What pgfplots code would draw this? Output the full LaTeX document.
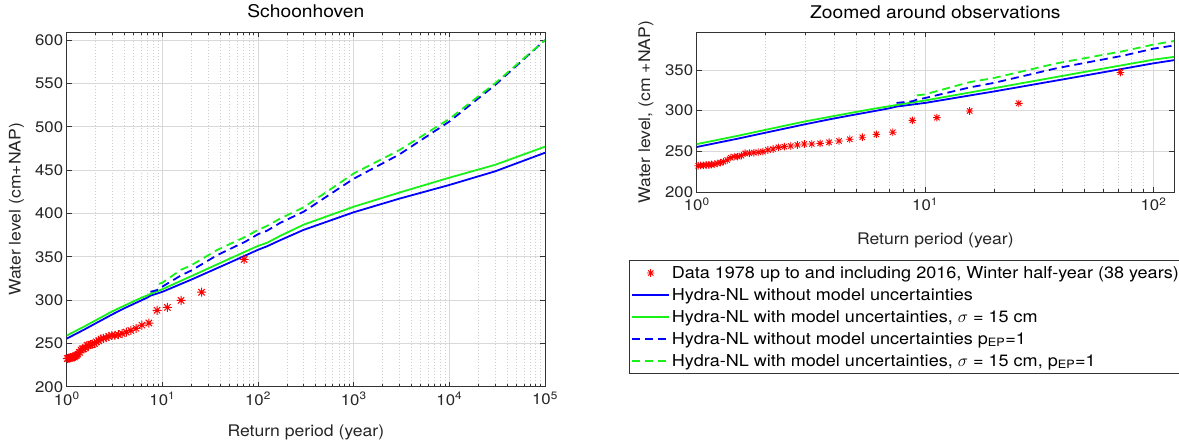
\documentclass[border=0pt]{standalone}
\usepackage{pgfplots}
\pgfplotsset{compat=1.18}
\usepackage{pgfplotstable}
\usepackage{fontspec}
\setmainfont{TeX Gyre Heros}[FakeStretch=1.1]
\definecolor{mblue}{rgb}{0,0,1}
\definecolor{mgreen}{rgb}{0.1,0.95,0.1}
\definecolor{mred}{rgb}{1,0,0}
\pgfdeclareplotmark{mstar}{%
  \pgfpathmoveto{\pgfqpoint{0pt}{\pgfplotmarksize}}\pgfpathlineto{\pgfqpoint{0pt}{-\pgfplotmarksize}}%
  \pgfpathmoveto{\pgfqpoint{\pgfplotmarksize}{0pt}}\pgfpathlineto{\pgfqpoint{-\pgfplotmarksize}{0pt}}%
  \pgfpathmoveto{\pgfqpoint{0.707\pgfplotmarksize}{0.707\pgfplotmarksize}}\pgfpathlineto{\pgfqpoint{-0.707\pgfplotmarksize}{-0.707\pgfplotmarksize}}%
  \pgfpathmoveto{\pgfqpoint{0.707\pgfplotmarksize}{-0.707\pgfplotmarksize}}\pgfpathlineto{\pgfqpoint{-0.707\pgfplotmarksize}{0.707\pgfplotmarksize}}%
  \pgfusepathqstroke}

\pgfplotstableread{
T v
71.6 346.8
25.7 309
15.67 299.6
11.27 291.5
8.80 288.2
7.22 273.5
6.12 271
5.31 267.4
4.68 265
4.20 262.9
3.80 261.3
3.47 260
3.19 259.2
2.96 259.2
2.76 258
2.58 256.7
2.42 255.9
2.28 255.1
2.16 253
2.05 251.8
1.95 249.8
1.86 249
1.78 248.5
1.70 247.8
1.63 247.8
1.57 244.9
1.51 243.7
1.46 243.7
1.41 242.4
1.36 239.6
1.31 237.5
1.27 236.3
1.23 235.5
1.20 234.3
1.16 234
1.13 233.5
1.10 233.5
1.07 233
1.04 233
1.015 232.5
}\obs

\pgfplotstableread{
T v
1 255.5
1.5 265.5
2 273
3 283.5
4 290.5
5 295.5
6 299.5
7 303
7.5 305
10 309.5
20 323.5
50 343
100 358
124 362
170 369
300 381
1000 401.3
3000 417
10000 432.8
30000 448.5
100000 470
}\bsolid

\pgfplotstableread{
T v
1 259
1.5 269
2 276.5
3 287
4 293.5
5 298.5
6 302.5
7 305.5
7.5 307
10 312.5
20 327.5
50 347.5
100 362.5
124 366
170 374
300 387
1000 407.7
3000 424
10000 441.2
30000 456
100000 477
}\gsolid

\pgfplotstableread{
T v
7.5 309.5
8.8 311.5
9.2 313.5
10 315.5
15.7 328.5
20 334
37.7 352
74 367.5
100 376
124 380
170 389
300 402
1000 440
3000 468
10000 506
30000 548
100000 600
}\bdash

\pgfplotstableread{
T v
9.2 318.7
10 320
15.7 335
20 340
37.7 358
74 373
100 381
124 385.5
170 394
300 407
1000 446
3000 473
10000 509
30000 550
100000 600
}\gdash

\pgfplotsset{
  every axis/.append style={
    scale only axis,
    /pgf/number format/assume math mode=true,
    grid=both,
    major grid style={black!15, line width=0.5pt},
    minor grid style={black!20, line width=0.5pt, dash pattern=on 1pt off 2pt},
    axis line style={black!80, line width=0.6pt},
    tick style={black!80, line width=0.5pt},
    tick align=inside, major tick length=5pt, minor tick length=3pt,
    tick label style={font=\fontsize{15.3}{18}\selectfont, text=black!85},
    xticklabel style={yshift=-2pt},
    label style={font=\fontsize{16}{19}\selectfont, text=black!85},
    title style={font=\fontsize{17.5}{20}\selectfont, text=black},
  },
}

\begin{document}
\begin{tikzpicture}
\useasboundingbox (0,0) rectangle (1179pt,-443pt);
\begin{axis}[
  xmode=log,
  width=478.3pt, height=354.4pt,
  at={(66.7pt,-386.7pt)}, anchor=south west,
  xmin=1, xmax=100000, ymin=200, ymax=609,
  xtick={1,10,100,1000,10000,100000},
  xticklabels={10\textsuperscript{0},10\textsuperscript{1},10\textsuperscript{2},10\textsuperscript{3},10\textsuperscript{4},10\textsuperscript{5}},
  ytick={200,250,300,350,400,450,500,550,600},
  title={Schoonhoven},
  xlabel={Return period (year)},
  ylabel={Water level (cm+NAP)},
  title style={at={(axis description cs:0.5,1.043)}, anchor=center},
  xlabel style={at={(axis description cs:0.5,-0.13)}, anchor=center},
  ylabel style={at={(axis description cs:-0.105,0.5)}, anchor=center},
]
\addplot[only marks, mark=mstar, mark size=4.5pt, mred, mark options={line width=1pt, solid}] table {\obs};
\addplot[mblue, line width=1.8pt] table {\bsolid};
\addplot[mgreen, line width=1.8pt] table {\gsolid};
\addplot[mblue, line width=1.8pt, dash pattern=on 8pt off 5pt] table {\bdash};
\addplot[mgreen, line width=1.8pt, dash pattern=on 8pt off 5pt] table {\gdash};
\end{axis}

\begin{axis}[
  xmode=log,
  width=477.3pt, height=160pt,
  at={(696.7pt,-192.3pt)}, anchor=south west,
  xmin=1, xmax=123, ymin=200, ymax=396,
  xtick={1,10,100},
  xticklabels={10\textsuperscript{0},10\textsuperscript{1},10\textsuperscript{2}},
  ytick={200,250,300,350},
  title={Zoomed around observations},
  xlabel={Return period (year)},
  ylabel={Water level, (cm +NAP)},
  title style={at={(axis description cs:0.5,1.0875)}, anchor=center},
  xlabel style={at={(axis description cs:0.5,-0.30)}, anchor=center},
  ylabel style={at={(axis description cs:-0.106,0.5)}, anchor=center},
  legend image code/.code={\draw[mark repeat=2,mark phase=2,#1] plot coordinates {(0pt,0pt) (18.5pt,0pt) (37pt,0pt)};},
  legend style={at={(axis description cs:-0.1418,-0.423)}, anchor=north west,
    draw=black!80, line width=0.5pt, fill=white,
    font=\fontsize{16.4}{19}\selectfont,
    cells={anchor=west}, inner xsep=2pt, inner ysep=6pt,
    nodes={inner ysep=0pt, inner xsep=1.7pt},
    row sep=8.5pt},
]
\addplot[only marks, mark=mstar, mark size=3.8pt, mred, mark options={line width=0.9pt, solid}] table {\obs};
\addlegendentry{Data 1978 up to and including 2016, Winter half-year (38 years)}
\addplot[mblue, line width=1.8pt] table {\bsolid};
\addlegendentry{Hydra-NL without model uncertainties}
\addplot[mgreen, line width=1.8pt] table {\gsolid};
\addlegendentry{Hydra-NL with model uncertainties, $\sigma$ = 15 cm}
\addplot[mblue, line width=1.8pt, dash pattern=on 8pt off 5pt] table {\bdash};
\addlegendentry{Hydra-NL without model uncertainties p\textsubscript{EP}=1}
\addplot[mgreen, line width=1.8pt, dash pattern=on 8pt off 5pt] table {\gdash};
\addlegendentry{Hydra-NL with model uncertainties, $\sigma$ = 15 cm, p\textsubscript{EP}=1}
\end{axis}
\end{tikzpicture}
\end{document}
